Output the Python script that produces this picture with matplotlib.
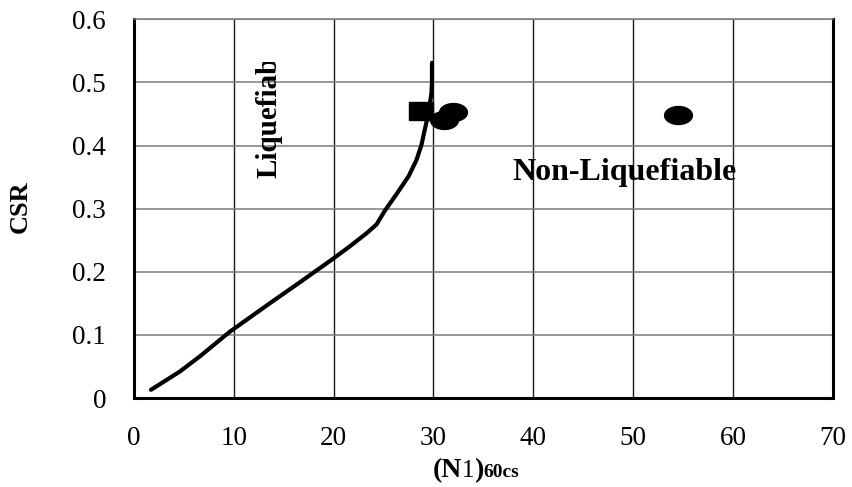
import numpy as np
import matplotlib
matplotlib.use('Agg')
import matplotlib.pyplot as plt
from matplotlib.path import Path
from matplotlib.transforms import Bbox, TransformedBbox
from matplotlib.offsetbox import TextArea, HPacker, AnnotationBbox

plt.rcParams['font.family'] = 'Liberation Serif'

# --- boundary curve (clean sand base curve) ---
curve_n = [1.7, 4.6, 6.6, 9.6, 13.6, 16.5, 19.8, 21.6, 23.3, 24.3,
           25.1, 26.3, 27.5, 28.3, 28.8, 29.2, 29.5, 29.8, 29.85, 29.85]
curve_csr = [0.013, 0.042, 0.066, 0.105, 0.150, 0.182, 0.219, 0.240, 0.261, 0.275,
             0.296, 0.323, 0.351, 0.377, 0.401, 0.430, 0.451, 0.483, 0.500, 0.531]

# --- site points ---
square_n = [28.75]
square_csr = [0.455]
circle_n = [31.1, 32.0, 54.55]
circle_csr = [0.441, 0.453, 0.449]

x_ticks = [0, 10, 20, 30, 40, 50, 60, 70]
y_ticks = [0, 0.1, 0.2, 0.3, 0.4, 0.5, 0.6]
y_tick_labels = ['0', '0.1', '0.2', '0.3', '0.4', '0.5', '0.6']


def box_marker(w, h):
    # rectangle / ellipse markers, wider than tall like in the source
    return Path([(-w, -h), (w, -h), (w, h), (-w, h), (-w, -h)], closed=True)


def oval_marker(w, h, n=80):
    t = np.linspace(0, 2 * np.pi, n)
    return Path(np.column_stack([w * np.cos(t), h * np.sin(t)]), closed=True)


fig = plt.figure(figsize=(8.53, 4.87), dpi=100)
ax = fig.add_axes([134 / 853, 1 - 398 / 487, (832.7 - 134) / 853, (398 - 19.3) / 487])

ax.set_xlim(0, 70)
ax.set_ylim(0, 0.6)
ax.set_xticks(x_ticks)
ax.set_yticks(y_ticks)
ax.set_yticklabels(y_tick_labels)
ax.tick_params(length=0, labelsize=19.5)
ax.tick_params(axis='y', pad=20)
ax.tick_params(axis='x', pad=20)

ax.grid(axis='y', color='#7a7a7a', lw=1.1)
ax.grid(axis='x', color='#1a1a1a', lw=1.0)
ax.set_axisbelow(True)

for s in ['left', 'bottom', 'right']:
    ax.spines[s].set_linewidth(2.2)
    ax.spines[s].set_color('black')
ax.spines['top'].set_linewidth(1.1)
ax.spines['top'].set_color('#7a7a7a')

ax.plot(curve_n, curve_csr, color='black', lw=3.0, solid_capstyle='round',
        solid_joinstyle='round', zorder=3)

ax.plot(square_n, square_csr, ls='none', marker=box_marker(1.35, 1.0),
        markersize=16.6, color='black', zorder=4)
ax.plot(circle_n, circle_csr, ls='none', marker=oval_marker(1.55, 1.0),
        markersize=20, color='black', zorder=4)

# region labels
t = ax.text(13.5, 0.349, 'Liquefiable', rotation=90, ha='center', va='bottom',
            fontsize=21, fontweight='bold', zorder=5)
t.set_clip_box(TransformedBbox(Bbox([[0, 0], [70, 0.533]]), ax.transData))
t.set_clip_on(True)

ax.text(49.1, 0.345, 'Non-Liquefiable', ha='center', va='baseline',
        fontsize=23, fontweight='bold', zorder=5)

# axis titles
fig.text(20 / 853, 1 - 207 / 487, 'CSR', rotation=90, ha='center', va='center',
         fontsize=19, fontweight='bold')

parts = [TextArea('(N', textprops=dict(fontsize=20, fontweight='bold')),
         TextArea('1', textprops=dict(fontsize=18)),
         TextArea(')', textprops=dict(fontsize=20, fontweight='bold')),
         TextArea('60cs', textprops=dict(fontsize=14, fontweight='bold'))]
label_box = HPacker(children=parts, align='baseline', pad=0, sep=0)
ab = AnnotationBbox(label_box, (476, 4), xycoords='figure pixels', frameon=False,
                    box_alignment=(0.5, 0), pad=0)
fig.add_artist(ab)

fig.savefig('out.png', dpi=100)
